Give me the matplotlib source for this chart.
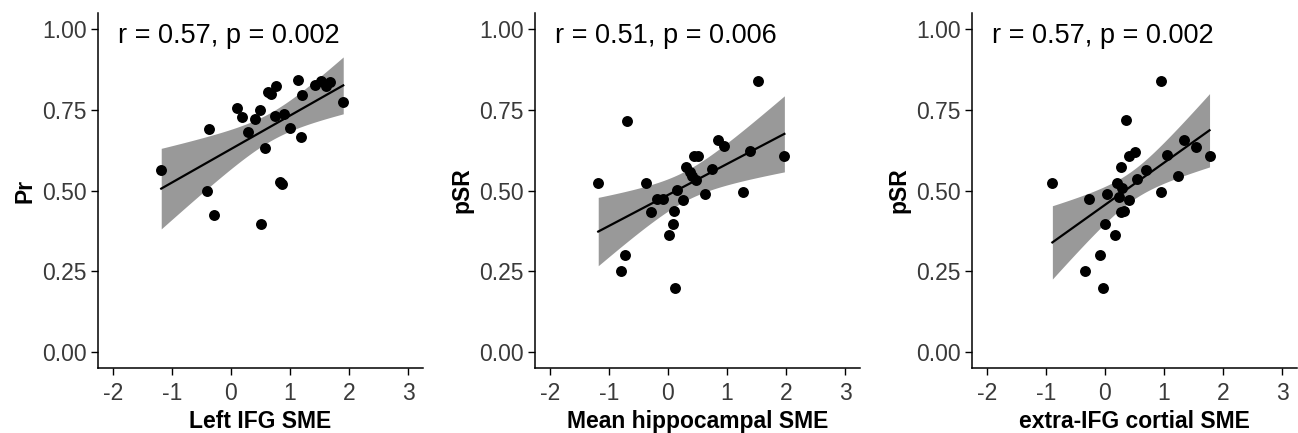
import numpy as np
import matplotlib
matplotlib.use("Agg")
import matplotlib.pyplot as plt

plt.rcParams['font.family'] = ['Liberation Sans', 'DejaVu Sans']

# values
x_ifg = [-1.18, -0.41, -0.29, -0.37, 0.11, 0.19, 0.29, 0.41, 0.49, 0.51, 0.58, 0.62, 0.68,
         0.76, 0.75, 0.83, 0.87, 0.89, 1.00, 1.14, 1.18, 1.21, 1.43, 1.53, 1.61, 1.67, 1.90]
pr = [0.562, 0.497, 0.423, 0.692, 0.755, 0.727, 0.682, 0.721, 0.750, 0.396, 0.631, 0.805, 0.799,
      0.823, 0.731, 0.527, 0.520, 0.737, 0.695, 0.843, 0.667, 0.797, 0.826, 0.838, 0.823, 0.836, 0.774]

x_hipp = [-1.18, -0.69, -0.80, -0.72, -0.38, -0.28, -0.19, -0.08, 0.02, 0.08, 0.10, 0.12, 0.15, 0.25,
          0.31, 0.37, 0.41, 0.44, 0.51, 0.48, 0.63, 0.74, 0.84, 0.94, 1.27, 1.39, 1.52, 1.97]
psr_hipp = [0.524, 0.716, 0.252, 0.299, 0.524, 0.432, 0.475, 0.475, 0.361, 0.397, 0.437, 0.198, 0.503, 0.470,
            0.574, 0.558, 0.546, 0.607, 0.607, 0.532, 0.489, 0.568, 0.657, 0.638, 0.496, 0.623, 0.838, 0.607]

x_cort = [-0.89, -0.34, -0.27, -0.08, -0.03, 0.00, 0.04, 0.17, 0.20, 0.23, 0.27, 0.27, 0.33, 0.28,
          0.35, 0.40, 0.41, 0.50, 0.54, 0.69, 0.94, 0.94, 1.05, 1.24, 1.33, 1.54, 1.77]
psr_cort = [0.524, 0.252, 0.473, 0.299, 0.198, 0.395, 0.489, 0.363, 0.524, 0.480, 0.574, 0.432, 0.437, 0.507,
            0.717, 0.470, 0.607, 0.620, 0.535, 0.565, 0.496, 0.838, 0.609, 0.546, 0.655, 0.636, 0.607]

panels = [
    (x_ifg, pr, "Left IFG SME", "Pr", "r = 0.57, p = 0.002"),
    (x_hipp, psr_hipp, "Mean hippocampal SME", "pSR", "r = 0.51, p = 0.006"),
    (x_cort, psr_cort, "extra-IFG cortial SME", "pSR", "r = 0.57, p = 0.002"),
]

x_ticks = [-2, -1, 0, 1, 2, 3]
y_ticks = [0.00, 0.25, 0.50, 0.75, 1.00]
T975 = 2.06  # t quantile, ~25 df

W, H = 1298, 433
lefts = [98, 535, 972]
width = 325
bottom, top = 368, 13

fig = plt.figure(figsize=(W / 100, H / 100), dpi=100)


def fit_band(x, y):
    x = np.asarray(x)
    y = np.asarray(y)
    n = len(x)
    slope, icpt = np.polyfit(x, y, 1)
    xs = np.linspace(x.min(), x.max(), 80)
    fit = icpt + slope * xs
    resid = y - (icpt + slope * x)
    s = np.sqrt(np.sum(resid ** 2) / (n - 2))
    se = s * np.sqrt(1 / n + (xs - x.mean()) ** 2 / np.sum((x - x.mean()) ** 2))
    return xs, fit, fit - T975 * se, fit + T975 * se


for left, (x, y, xlab, ylab, note) in zip(lefts, panels):
    ax = fig.add_axes([left / W, (H - bottom) / H, width / W, (bottom - top) / H])
    xs, fit, lo, hi = fit_band(x, y)
    ax.fill_between(xs, lo, hi, color='#999999', lw=0, zorder=1)
    ax.plot(xs, fit, color='black', lw=1.6, zorder=2)
    ax.scatter(x, y, s=62, color='black', zorder=3, linewidths=0)

    ax.set_xlim(-2.25, 3.25)
    ax.set_ylim(-0.05, 1.05)
    ax.set_xticks(x_ticks)
    ax.set_xticklabels([str(t) for t in x_ticks])
    ax.set_yticks(y_ticks)
    ax.set_yticklabels(["%.2f" % t for t in y_ticks])
    ax.tick_params(labelsize=16.5, labelcolor='#3a3a3a', length=5, width=1)
    ax.tick_params(axis='x', pad=5)
    ax.tick_params(axis='y', pad=3)
    for side in ['top', 'right']:
        ax.spines[side].set_visible(False)
    for side in ['left', 'bottom']:
        ax.spines[side].set_linewidth(1.1)
    ax.set_xlabel(xlab, fontsize=16.5, fontweight='bold', labelpad=4)
    ax.set_ylabel(ylab, fontsize=16.5, fontweight='bold', labelpad=4)
    ax.text(-0.03, 0.98, note, fontsize=19.5, ha='center', va='center')

fig.savefig("out.png", dpi=100)
